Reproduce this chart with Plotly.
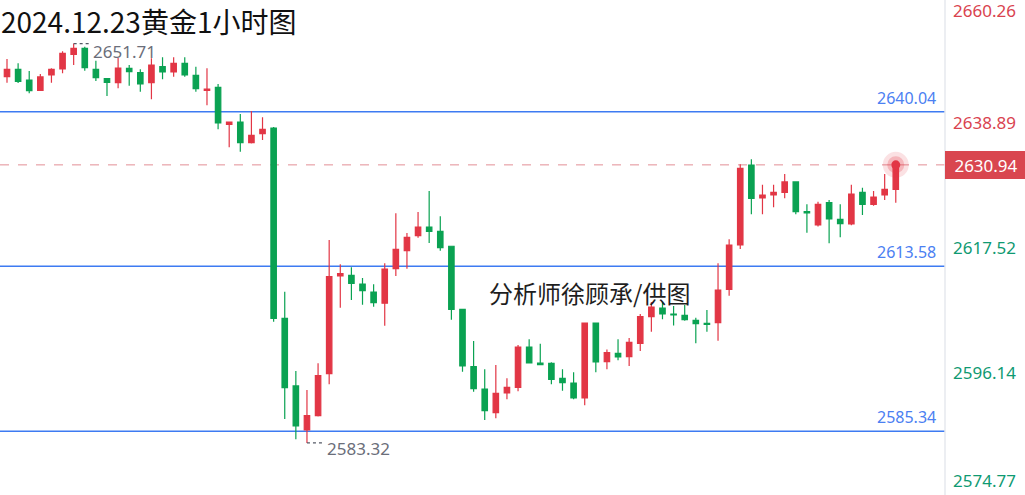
import plotly.graph_objects as go

# ---------------- data ----------------
opens = [2646.04, 2647.30, 2645.47, 2643.71, 2646.33, 2647.36, 2649.87, 2650.90, 2647.30, 2645.69,
         2645.01, 2647.47, 2646.72, 2645.01, 2647.75, 2646.84, 2648.33, 2646.28, 2643.71, 2644.22,
         2637.89, 2638.28, 2634.74, 2636.28, 2637.25, 2604.67, 2593.08, 2585.54, 2587.99, 2595.18,
         2611.91, 2612.03, 2610.54, 2609.17, 2607.24, 2613.16, 2616.24, 2618.81, 2620.30, 2619.56,
         2617.00, 2606.21, 2596.38, 2592.56, 2588.50, 2591.88, 2592.85, 2599.75, 2597.01, 2596.96,
         2594.39, 2593.59, 2591.02, 2603.86, 2597.24, 2598.67, 2598.09, 2600.35, 2604.94, 2606.43,
         2605.40, 2605.18, 2604.32, 2603.81, 2603.91, 2609.63, 2617.22, 2630.92, 2625.27, 2625.78,
         2626.24, 2628.01, 2622.92, 2620.64, 2624.46, 2621.62, 2620.81, 2626.24, 2624.19, 2625.78,
         2626.76]
highs = [2649.07, 2648.33, 2647.01, 2646.50, 2647.47, 2650.39, 2651.71, 2651.17, 2648.78, 2645.69,
         2649.29, 2648.04, 2647.30, 2649.19, 2649.36, 2649.36, 2649.36, 2647.75, 2647.47, 2644.79,
         2638.28, 2639.65, 2640.16, 2639.08, 2637.42, 2609.22, 2595.64, 2592.39, 2596.96, 2618.07,
         2613.91, 2613.40, 2611.57, 2610.49, 2614.09, 2622.65, 2619.27, 2622.87, 2626.46, 2622.13,
         2617.00, 2606.21, 2600.78, 2595.93, 2596.67, 2594.39, 2600.10, 2601.07, 2600.32, 2597.13,
         2595.93, 2595.42, 2603.86, 2603.86, 2599.32, 2601.07, 2601.29, 2605.40, 2607.46, 2607.51,
         2606.77, 2606.94, 2604.77, 2606.09, 2614.09, 2618.19, 2631.04, 2631.89, 2627.54, 2627.54,
         2629.38, 2628.01, 2624.19, 2624.63, 2624.92, 2624.19, 2627.54, 2627.03, 2626.47, 2629.38,
         2631.43]
lows = [2645.01, 2644.96, 2643.19, 2643.62, 2645.01, 2646.62, 2648.04, 2647.06, 2645.30, 2642.73,
        2644.05, 2644.50, 2643.47, 2642.17, 2645.59, 2646.04, 2646.04, 2643.47, 2641.14, 2637.03,
        2633.95, 2633.19, 2634.60, 2635.20, 2604.09, 2587.42, 2583.95, 2583.32, 2587.85, 2593.37,
        2606.48, 2607.80, 2607.00, 2606.65, 2603.40, 2611.91, 2613.16, 2618.47, 2617.56, 2616.24,
        2604.43, 2595.52, 2592.10, 2587.25, 2587.54, 2590.80, 2592.17, 2596.92, 2596.72, 2593.37,
        2592.27, 2590.80, 2589.77, 2595.42, 2595.93, 2597.47, 2596.50, 2599.07, 2602.37, 2604.50,
        2603.43, 2604.26, 2600.39, 2602.37, 2600.83, 2608.54, 2616.53, 2622.48, 2622.48, 2623.67,
        2625.21, 2622.48, 2619.32, 2620.39, 2617.51, 2618.54, 2620.59, 2622.36, 2623.95, 2624.92,
        2624.46]
closes = [2647.30, 2645.25, 2643.64, 2645.99, 2647.30, 2650.04, 2650.90, 2647.58, 2645.87, 2645.08,
          2647.53, 2646.89, 2644.79, 2648.04, 2646.84, 2648.33, 2646.33, 2643.98, 2643.93, 2638.11,
          2638.28, 2634.74, 2636.00, 2637.03, 2604.67, 2592.78, 2586.23, 2587.99, 2594.84, 2611.79,
          2612.30, 2610.66, 2609.39, 2607.34, 2613.11, 2616.48, 2618.54, 2620.30, 2619.56, 2616.76,
          2606.21, 2596.50, 2592.61, 2588.85, 2591.82, 2592.85, 2599.75, 2597.01, 2596.72, 2594.22,
          2593.64, 2591.02, 2603.86, 2597.18, 2598.78, 2598.04, 2600.56, 2604.94, 2606.60, 2605.40,
          2605.23, 2604.43, 2603.74, 2603.64, 2609.51, 2617.22, 2630.35, 2625.21, 2625.78, 2626.24,
          2628.01, 2622.92, 2622.70, 2624.19, 2621.67, 2620.87, 2625.95, 2624.19, 2625.44, 2626.76,
          2630.94]
idx = list(range(len(opens)))

level_lines = [2640.04, 2613.58, 2585.34]
axis_labels = [2660.26, 2638.89, 2617.52, 2596.14, 2574.77]
current_price = 2630.94
high_label = 2651.71
high_idx = 6
low_label = 2583.32
low_idx = 27

title_text = "2024.12.23黄金1小时图"
watermark = "分析师徐顾承/供图"

# ---------------- style ----------------
RED = "#e23645"
GREEN = "#0aa252"
BLUE = "#3d7bf2"
BLUE_TXT = "#4b80f2"
AX_RED = "#d9434f"
AX_GREEN = "#0f9a72"
GRAY_TXT = "#6b6e7a"

Y_MIN, Y_MAX = 2574.41, 2659.17
X_MIN, X_MAX = -0.63, 84.43
PX_PER_UNIT = 495 / (Y_MAX - Y_MIN)

fig = go.Figure()

fig.add_trace(go.Candlestick(
    x=idx, open=opens, high=highs, low=lows, close=closes,
    increasing=dict(line=dict(color=RED, width=1.2), fillcolor=RED),
    decreasing=dict(line=dict(color=GREEN, width=1.2), fillcolor=GREEN),
    whiskerwidth=0, hoverinfo="skip", showlegend=False,
))

# dotted leaders for high / low marks
fig.add_trace(go.Scatter(x=[high_idx, high_idx + 1.5], y=[high_label, high_label], mode="lines",
                         line=dict(color="#555a66", width=1.2, dash="dot"),
                         hoverinfo="skip", showlegend=False))
fig.add_trace(go.Scatter(x=[low_idx, low_idx + 1.35], y=[low_label, low_label], mode="lines",
                         line=dict(color="#555a66", width=1.2, dash="dot"),
                         hoverinfo="skip", showlegend=False))

# pulsing dot at last close
last = idx[-1]
fig.add_trace(go.Scatter(x=[last], y=[current_price], mode="markers",
                         marker=dict(size=26, color="rgba(226,54,69,0.15)", line=dict(width=0)),
                         hoverinfo="skip", showlegend=False))
fig.add_trace(go.Scatter(x=[last], y=[current_price], mode="markers",
                         marker=dict(size=17, color="rgba(226,54,69,0.25)", line=dict(width=0)),
                         hoverinfo="skip", showlegend=False))
fig.add_trace(go.Scatter(x=[last], y=[current_price], mode="markers",
                         marker=dict(size=9, color=RED, line=dict(width=0)),
                         hoverinfo="skip", showlegend=False))

shapes = []
annotations = []

# horizontal level lines + labels
for v in level_lines:
    shapes.append(dict(type="line", xref="paper", x0=0, x1=1, yref="y", y0=v, y1=v,
                       line=dict(color=BLUE, width=1.5), layer="below"))
    annotations.append(dict(xref="paper", x=1, xanchor="right", xshift=-7,
                            yref="y", y=v, yanchor="bottom", yshift=1,
                            text=f"{v:.2f}", showarrow=False,
                            font=dict(family="Noto Sans", size=16, color=BLUE_TXT)))

# current price dashed line
shapes.append(dict(type="line", xref="paper", x0=0, x1=1, yref="y", y0=current_price, y1=current_price,
                   line=dict(color="rgba(215,95,105,0.7)", width=1, dash="dash"), layer="below"))

# right separator
shapes.append(dict(type="line", xref="paper", x0=1, x1=1, yref="paper", y0=0, y1=1,
                   line=dict(color="#e6e8ee", width=1.5)))

# right axis labels
for v in axis_labels:
    yy = v - 4 / PX_PER_UNIT
    yy = min(max(yy, Y_MIN + 15 / PX_PER_UNIT), Y_MAX - 10 / PX_PER_UNIT)
    col = AX_RED if v > current_price else AX_GREEN
    annotations.append(dict(xref="paper", x=1, xanchor="left", xshift=6,
                            yref="y", y=yy, yanchor="middle",
                            text=f"{v:.2f}", showarrow=False,
                            font=dict(family="Noto Sans", size=17, color=col)))

# current price box
annotations.append(dict(xref="paper", x=1, xanchor="left", xshift=0,
                        yref="y", y=current_price, yanchor="middle",
                        text=f"{current_price:.2f}", showarrow=False,
                        width=74, height=20, borderpad=3, align="center",
                        bgcolor="#d9464f", bordercolor="#d9464f",
                        font=dict(family="Noto Sans", size=17, color="white")))

# high / low labels
annotations.append(dict(xref="x", x=high_idx + 1.65, xanchor="left",
                        yref="y", y=high_label, yanchor="middle", yshift=-8,
                        text=f"{high_label:.2f}", showarrow=False, borderpad=0,
                        font=dict(family="Noto Sans", size=17, color=GRAY_TXT)))
annotations.append(dict(xref="x", x=low_idx + 1.6, xanchor="left",
                        yref="y", y=low_label, yanchor="middle", yshift=-6,
                        text=f"{low_label:.2f}", showarrow=False,
                        font=dict(family="Noto Sans", size=17, color=GRAY_TXT)))

# title
annotations.append(dict(xref="paper", x=0, xanchor="left", xshift=0,
                        yref="paper", y=1, yanchor="top", yshift=0, borderpad=0,
                        text=title_text, showarrow=False,
                        font=dict(family="Noto Sans CJK SC", size=28, color="#111111")))

# watermark
annotations.append(dict(xref="paper", x=589 / 945, xanchor="center",
                        yref="paper", y=1 - 292 / 495, yanchor="middle",
                        text=watermark, showarrow=False,
                        font=dict(family="Noto Sans CJK SC", size=24, color="#1e1e1e")))

fig.update_layout(
    width=1025, height=495,
    margin=dict(l=0, r=80, t=0, b=0),
    paper_bgcolor="white", plot_bgcolor="white",
    shapes=shapes, annotations=annotations,
    showlegend=False,
    boxgap=0.3,
    xaxis=dict(range=[X_MIN, X_MAX], visible=False, rangeslider=dict(visible=False),
               showgrid=False, zeroline=False, fixedrange=True),
    yaxis=dict(range=[Y_MIN, Y_MAX], visible=False, showgrid=False, zeroline=False,
               fixedrange=True),
)

fig.write_html(
    "out.html",
    config={"displayModeBar": False},
    post_script="document.body.style.margin='0';document.body.style.overflow='hidden';",
)
